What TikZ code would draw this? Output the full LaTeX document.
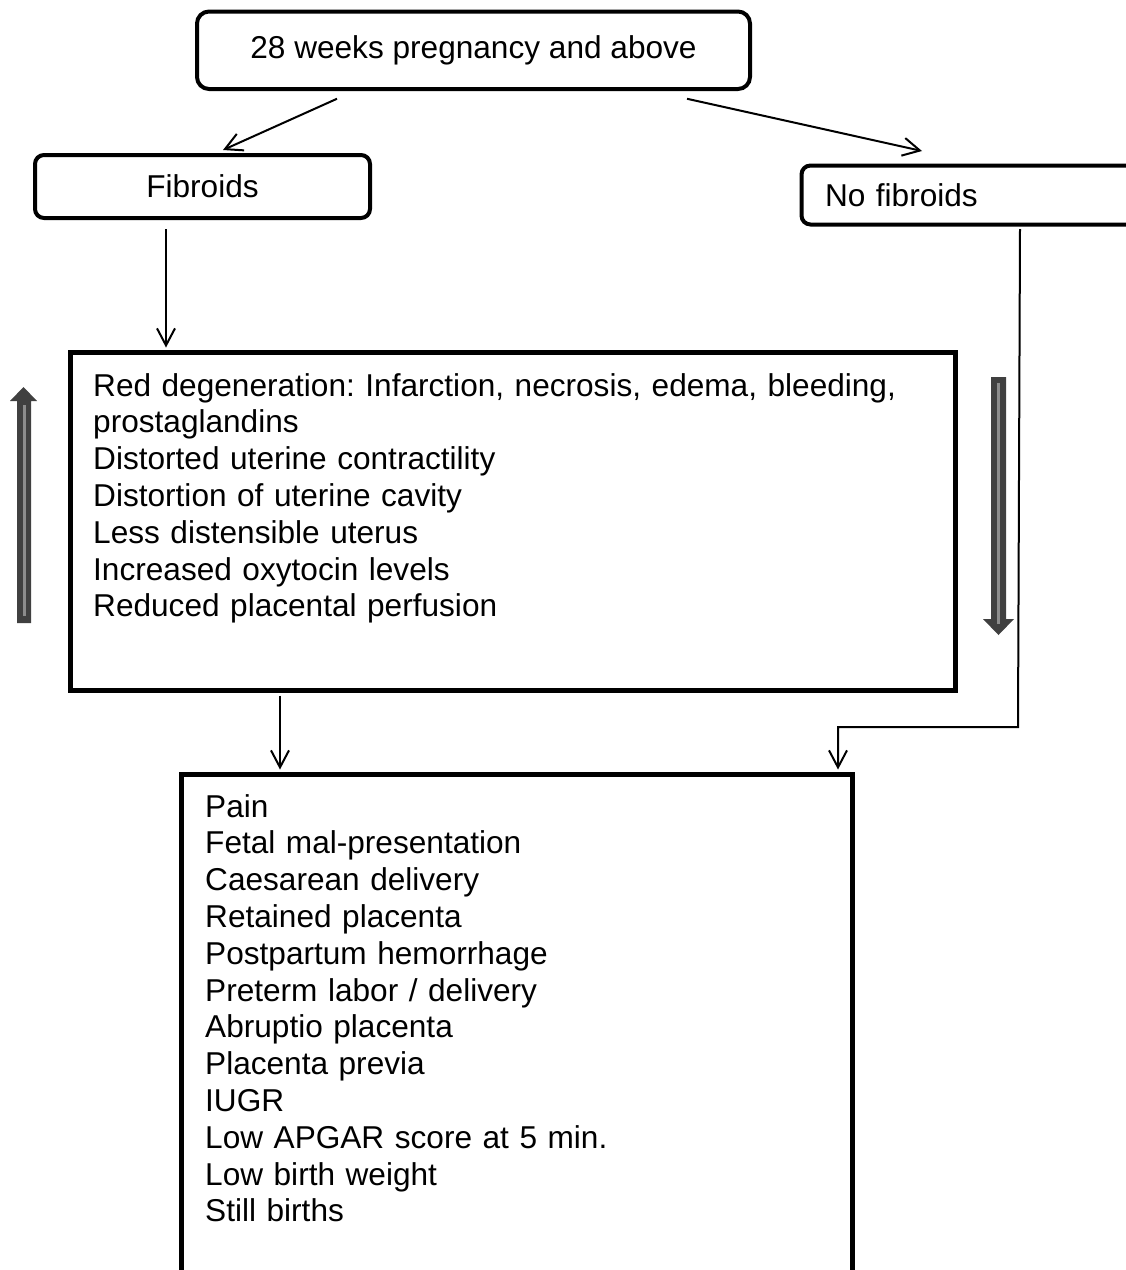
\documentclass[tikz,border=0pt]{standalone}
\usepackage{fontspec}
\setmainfont{Liberation Sans}
\frenchspacing
\usetikzlibrary{arrows.meta}
\definecolor{trendarrow}{HTML}{404040}
\definecolor{trendlight}{HTML}{8C8C8C}

\tikzset{
  roundbox/.style={rectangle, draw, rounded corners=12pt, line width=4pt, inner sep=0pt},
  listbox/.style={rectangle, draw, line width=5pt, inner sep=0pt},
  listtext/.style={inner sep=0pt, anchor=north west, text width=#1, align=left},
  flow/.style={line width=2pt, -{Straight Barb[length=17pt,width=18pt,line width=2pt]}},
}

\begin{document}
\begin{tikzpicture}[x=1pt, y=1pt, font=\fontsize{31.6}{36.8}\selectfont]
    \clip (0,0) rectangle (1126,-1270);

    % Top box
    \node[roundbox, minimum width=553pt, minimum height=77.5pt] (weeks) at (473.5,-50.25)
        {28 weeks pregnancy and above};

    % Fibroids
    \node[roundbox, rounded corners=9pt, minimum width=335pt, minimum height=63pt] (fibroids) at (202.5,-186.5)
        {Fibroids};

    % No fibroids
    \node[roundbox, rounded corners=9pt, anchor=west, minimum height=59pt, inner xsep=23.5pt, text width=303.5pt, align=left] (nofibroids) at (799.5,-195)
        {No fibroids};

    \draw[flow] ([shift={(-136.5,-7.75)}]weeks.south) -- ([shift={(20.5,3)}]fibroids.north);
    \draw[flow] ([shift={(213.5,-7.75)}]weeks.south) -- ([shift={(-54.75,12.5)}]nofibroids.north);

    % Mechanisms
    \node[listbox, minimum width=885pt, minimum height=338pt] (mechanisms) at (513,-521.5) {};
    \node[listtext=840pt] (mechlist) at (93,-373)
        {Red degeneration: Infarction, necrosis, edema, bleeding,\\
         prostaglandins\\
         Distorted uterine contractility\\
         Distortion of uterine cavity\\
         Less distensible uterus\\
         Increased oxytocin levels\\
         Reduced placental perfusion};

    \draw[flow] ([shift={(-36.5,-9)}]fibroids.south) -- ([shift={(-347,2.5)}]mechanisms.north);

    % Up and down trend arrows
    \fill[trendarrow] (17,-623) -- (17,-401) -- (10,-401) -- (23.5,-387) -- (37,-401) -- (31,-401) -- (31,-623) -- cycle;
    \draw[trendlight, line width=3pt] (24,-616) -- (24,-405);
    \fill[trendarrow] (991,-377) -- (991,-619) -- (983,-619) -- (998.5,-635) -- (1014,-619) -- (1006,-619) -- (1006,-377) -- cycle;
    \draw[trendlight, line width=3.5pt] (998.5,-383) -- (998.5,-624);

    % Outcomes
    \node[listbox, minimum width=670.5pt, minimum height=545.5pt] (outcomes) at (516.75,-1047.25) {};
    \node[listtext=620pt] (outlist) at (205,-794)
        {Pain\\
         Fetal mal-presentation\\
         Caesarean delivery\\
         Retained placenta\\
         Postpartum hemorrhage\\
         Preterm labor / delivery\\
         Abruptio placenta\\
         Placenta previa\\
         IUGR\\
         Low APGAR score at 5 min.\\
         Low birth weight\\
         Still births};

    \coordinate (bend) at (1018,-727);
    \draw[flow] ([shift={(-233,-2.5)}]mechanisms.south) -- ([shift={(-236.75,2.5)}]outcomes.north);
    \draw[flow] ([shift={(43.25,-2.5)}]nofibroids.south) -- (bend) -| ([shift={(321.25,2.5)}]outcomes.north);
\end{tikzpicture}
\end{document}
